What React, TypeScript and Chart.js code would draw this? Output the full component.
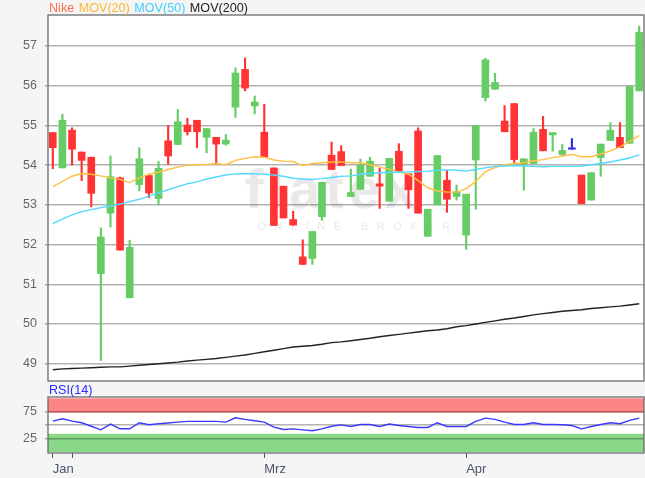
import React, { useEffect, useRef } from 'react';
import { Chart, registerables } from 'chart.js';

Chart.register(...registerables);

// ---- data ----
const opens = [54.82, 53.93, 54.88, 54.33, 54.2, 51.27, 52.79, 53.68, 50.66, 53.51, 53.74, 53.16, 54.61, 54.52, 55.01, 55.13, 54.7, 54.7, 54.53, 55.46, 56.41, 55.49, 54.83, 53.93, 53.47, 52.63, 51.69, 51.65, 52.7, 54.25, 54.34, 53.21, 53.39, 53.72, 53.53, 53.09, 54.35, 53.78, 54.86, 52.21, 53.0, 53.62, 53.21, 52.24, 54.13, 55.7, 55.91, 55.11, 55.55, 54.02, 54.04, 54.9, 54.76, 54.27, 54.4, 53.75, 53.12, 54.19, 54.62, 54.7, 54.55, 55.87];
const closes = [54.44, 55.13, 54.4, 54.12, 53.29, 52.19, 53.71, 51.86, 51.93, 54.16, 53.3, 53.92, 54.23, 55.09, 54.84, 54.84, 54.92, 54.53, 54.63, 56.32, 55.94, 55.59, 54.2, 52.48, 52.67, 52.49, 51.5, 52.33, 53.57, 53.89, 53.99, 53.31, 54.0, 54.1, 53.47, 54.17, 53.85, 53.38, 52.79, 52.89, 54.24, 53.14, 53.33, 53.27, 55.0, 56.65, 56.08, 54.84, 54.14, 54.16, 54.83, 54.36, 54.82, 54.37, 54.4, 53.03, 53.81, 54.53, 54.88, 54.44, 55.98, 57.34];
const highs = [54.82, 55.28, 54.94, 54.33, 54.2, 52.42, 54.23, 53.7, 52.11, 54.44, 53.74, 54.09, 55.0, 55.4, 55.18, 55.13, 54.92, 54.7, 54.77, 56.45, 56.7, 55.74, 55.53, 53.93, 53.47, 52.84, 52.12, 52.33, 53.57, 54.58, 54.49, 53.9, 54.15, 54.2, 53.92, 54.17, 54.54, 53.78, 54.94, 52.89, 54.24, 53.87, 53.5, 53.27, 55.0, 56.69, 56.31, 55.5, 55.55, 54.16, 54.92, 55.23, 54.82, 54.52, 54.67, 53.75, 53.81, 54.53, 55.07, 55.07, 55.98, 57.5];
const lows = [53.91, 53.93, 54.0, 53.61, 52.95, 49.08, 52.44, 51.86, 50.66, 53.35, 53.18, 53.0, 54.02, 54.52, 54.76, 54.44, 54.31, 54.02, 54.5, 55.2, 55.87, 55.29, 54.2, 52.48, 52.67, 52.49, 51.5, 51.5, 52.61, 53.89, 53.99, 53.21, 53.39, 53.72, 52.91, 53.09, 53.85, 52.91, 52.79, 52.21, 53.0, 52.81, 53.12, 51.88, 52.89, 55.61, 55.91, 54.84, 54.04, 53.37, 54.04, 54.36, 54.35, 54.23, 54.4, 53.03, 53.12, 53.72, 54.62, 54.44, 54.55, 55.87];
const mov20 = [53.46, 53.59, 53.72, 53.79, 53.77, 53.73, 53.68, 53.64, 53.56, 53.68, 53.77, 53.82, 53.89, 53.95, 54.0, 54.01, 54.02, 54.04, 54.01, 54.12, 54.17, 54.21, 54.2, 54.13, 54.1, 54.09, 53.99, 54.04, 54.06, 54.08, 54.08, 54.06, 54.06, 54.01, 53.95, 53.9, 53.83, 53.77, 53.61, 53.43, 53.35, 53.32, 53.32, 53.41, 53.59, 53.84, 53.94, 54.01, 54.04, 54.06, 54.11, 54.14, 54.19, 54.23, 54.27, 54.21, 54.21, 54.28, 54.36, 54.46, 54.6, 54.75];
const mov50 = [52.53, 52.64, 52.75, 52.83, 52.88, 52.93, 52.97, 53.02, 53.08, 53.14, 53.22, 53.3, 53.38, 53.46, 53.53, 53.58, 53.65, 53.7, 53.75, 53.78, 53.79, 53.78, 53.77, 53.75, 53.72, 53.67, 53.65, 53.64, 53.66, 53.69, 53.72, 53.73, 53.77, 53.79, 53.81, 53.82, 53.82, 53.83, 53.84, 53.85, 53.87, 53.88, 53.87, 53.85, 53.89, 53.93, 53.97, 53.98, 53.99, 53.98, 53.97, 53.96, 53.97, 53.97, 53.97, 53.98, 54.01, 54.04, 54.08, 54.13, 54.18, 54.26];
const mov200 = [48.85, 48.87, 48.88, 48.89, 48.9, 48.91, 48.92, 48.92, 48.94, 48.96, 48.98, 49.0, 49.02, 49.04, 49.07, 49.09, 49.11, 49.13, 49.16, 49.19, 49.22, 49.26, 49.3, 49.34, 49.38, 49.42, 49.44, 49.46, 49.49, 49.53, 49.55, 49.58, 49.61, 49.64, 49.68, 49.71, 49.74, 49.77, 49.8, 49.83, 49.85, 49.88, 49.93, 49.96, 50.0, 50.04, 50.08, 50.12, 50.15, 50.19, 50.23, 50.26, 50.29, 50.32, 50.34, 50.36, 50.39, 50.41, 50.43, 50.45, 50.48, 50.51];
const rsi14 = [57.5, 62, 57.5, 54.5, 48, 41.3, 52, 43.2, 43.2, 54.5, 50.7, 52.6, 54, 55.7, 57, 57, 57, 57, 55.7, 63.8, 60.7, 58.2, 55.7, 46.3, 42, 43, 41.3, 39.5, 43, 48, 50.5, 47.6, 51.3, 51.3, 47.6, 52, 49.4, 47.6, 45.7, 45.7, 54.5, 47.6, 47.6, 47.6, 57, 63.1, 60.7, 55.7, 51.3, 51.3, 54.5, 51.3, 51.3, 50.7, 49.4, 43.2, 47.6, 51.3, 54.5, 52.6, 58.8, 63.1];

const priceTicks = [49, 50, 51, 52, 53, 54, 55, 56, 57];
const rsiTicks = [25, 50, 75];
const rsiTickLabels = ['25', '', '75'];
const monthTickIdx = [0, 2, 22, 43];
const monthTickLabels = ['Jan', '', 'Mrz', 'Apr'];
const rsiBands = { overbought: [73, 100], oversold: [0, 34] };
const legendItems = [
  { text: 'Nike', color: '#ff7050' },
  { text: 'MOV(20)', color: '#ffb833' },
  { text: 'MOV(50)', color: '#3fd0ff' },
  { text: 'MOV(200)', color: '#222222' },
];

const UP = '#66cc66';
const DOWN = '#ff3333';
const FLAT = '#3333ee';
const candleColor = (i: number) => (closes[i] > opens[i] ? UP : closes[i] < opens[i] ? DOWN : FLAT);

const FONT = '"Liberation Sans", Arial, Helvetica, sans-serif';

export default function App() {
  const mainRef = useRef<HTMLCanvasElement>(null);
  const rsiRef = useRef<HTMLCanvasElement>(null);

  useEffect(() => {
    document.body.style.margin = '0';
    document.body.style.overflow = 'hidden';
    Chart.defaults.font.family = FONT;

    const n = opens.length;
    const xMin = -0.5;
    const xMax = n - 0.5;
    const colors = opens.map((_, i) => candleColor(i));

    const areaPlugin = {
      id: 'area',
      beforeDraw(chart: any) {
        const { ctx, chartArea: a } = chart;
        ctx.save();
        ctx.fillStyle = '#ffffff';
        ctx.fillRect(a.left, a.top, a.right - a.left, a.bottom - a.top);
        ctx.restore();
      },
      afterDraw(chart: any) {
        const { ctx, chartArea: a } = chart;
        ctx.save();
        ctx.strokeStyle = '#6a6a6a';
        ctx.lineWidth = 1.3;
        ctx.strokeRect(a.left, a.top, a.right - a.left, a.bottom - a.top);
        ctx.restore();
      },
    };

    const mainDecor = {
      id: 'mainDecor',
      beforeDraw(chart: any) {
        const { ctx } = chart;
        ctx.save();
        ctx.fillStyle = 'rgba(200,200,200,0.4)';
        ctx.textAlign = 'center';
        ctx.textBaseline = 'alphabetic';
        ctx.font = `bold 56px ${FONT}`;
        (ctx as any).letterSpacing = '5px';
        ctx.fillText('flatex', 333, 208);
        ctx.font = `11px ${FONT}`;
        (ctx as any).letterSpacing = '8.5px';
        ctx.fillText('ONLINE BROKER', 358, 230);
        ctx.restore();
      },
      afterDraw(chart: any) {
        const { ctx } = chart;
        ctx.save();
        ctx.font = `12.6px ${FONT}`;
        ctx.textBaseline = 'middle';
        ctx.textAlign = 'left';
        let x = 49;
        for (const it of legendItems) {
          ctx.fillStyle = it.color;
          ctx.fillText(it.text, x, 9);
          x += ctx.measureText(it.text).width + 4.5;
        }
        ctx.restore();
      },
    };

    const rsiDecor = {
      id: 'rsiDecor',
      beforeDraw(chart: any) {
        const { ctx, chartArea: a, scales } = chart;
        const y = scales.y;
        ctx.save();
        ctx.fillStyle = '#ff8585';
        const r0 = y.getPixelForValue(rsiBands.overbought[1]);
        const r1 = y.getPixelForValue(rsiBands.overbought[0]);
        ctx.fillRect(a.left, r0, a.right - a.left, r1 - r0);
        ctx.fillStyle = '#88d888';
        const g0 = y.getPixelForValue(rsiBands.oversold[1]);
        const g1 = y.getPixelForValue(rsiBands.oversold[0]);
        ctx.fillRect(a.left, g0, a.right - a.left, g1 - g0);
        ctx.restore();
      },
      afterDraw(chart: any) {
        const { ctx } = chart;
        ctx.save();
        ctx.font = `12.6px ${FONT}`;
        ctx.textBaseline = 'middle';
        ctx.fillStyle = '#2a2aff';
        ctx.fillText('RSI(14)', 49, 6);
        ctx.restore();
      },
    };

    const fitY = (scale: any) => {
      scale.width = 48;
      scale.paddingTop = 0;
      scale.paddingBottom = 0;
    };
    const fitX = (scale: any) => {
      scale.height = 25;
      scale.paddingLeft = 0;
      scale.paddingRight = 0;
    };

    const main = new Chart(mainRef.current!, {
      type: 'bar',
      data: {
        datasets: [
          {
            type: 'line',
            label: 'MOV(200)',
            data: mov200.map((v, i) => ({ x: i, y: v })),
            borderColor: '#222222',
            borderWidth: 1.4,
            pointRadius: 0,
            order: 0,
          } as any,
          {
            type: 'line',
            label: 'MOV(50)',
            data: mov50.map((v, i) => ({ x: i, y: v })),
            borderColor: '#55d8ff',
            borderWidth: 1.4,
            pointRadius: 0,
            order: 0,
          },
          {
            type: 'line',
            label: 'MOV(20)',
            data: mov20.map((v, i) => ({ x: i, y: v })),
            borderColor: '#ffc040',
            borderWidth: 1.4,
            pointRadius: 0,
            order: 0,
          },
          {
            type: 'bar',
            label: 'body',
            data: opens.map((o, i) => ({ x: i, y: [o, closes[i]] })),
            backgroundColor: colors,
            barThickness: 7,
            minBarLength: 1.5,
            grouped: false,
            order: 1,
          } as any,
          {
            type: 'bar',
            label: 'wick',
            data: lows.map((l, i) => ({ x: i, y: [l, highs[i]] })),
            backgroundColor: colors,
            barThickness: 1.5,
            grouped: false,
            order: 2,
          } as any,
        ],
      },
      options: {
        responsive: false,
        animation: false,
        layout: { padding: { top: 15, right: 1, bottom: 4, left: 0 } },
        plugins: { legend: { display: false }, tooltip: { enabled: false } },
        scales: {
          x: { type: 'linear', min: xMin, max: xMax, offset: false, display: false },
          y: {
            type: 'linear',
            min: 48.565,
            max: 57.78,
            afterFit: fitY,
            afterBuildTicks: (s: any) => {
              s.ticks = priceTicks.map((v) => ({ value: v }));
            },
            grid: { color: 'rgba(0,0,0,0.3)', lineWidth: 1.5, tickLength: 3, drawTicks: true },
            border: { display: false },
            ticks: { color: '#666666', font: { size: 12.5 }, padding: 8 },
          },
        },
      },
      plugins: [areaPlugin, mainDecor],
    });

    const rsiChart = new Chart(rsiRef.current!, {
      type: 'line',
      data: {
        datasets: [
          {
            label: 'RSI(14)',
            data: rsi14.map((v, i) => ({ x: i, y: v })),
            borderColor: '#3a3aff',
            borderWidth: 1.4,
            pointRadius: 0,
          },
        ],
      },
      options: {
        responsive: false,
        animation: false,
        layout: { padding: { top: 12, right: 1, bottom: 0, left: 0 } },
        plugins: { legend: { display: false }, tooltip: { enabled: false } },
        scales: {
          x: {
            type: 'linear',
            min: xMin,
            max: xMax,
            offset: false,
            afterFit: fitX,
            afterBuildTicks: (s: any) => {
              s.ticks = monthTickIdx.map((v) => ({ value: v }));
            },
            grid: { drawOnChartArea: false, drawTicks: true, tickLength: 5, color: '#555555', lineWidth: 1 },
            border: { display: false },
            ticks: {
              autoSkip: false,
              maxRotation: 0,
              align: 'start',
              padding: 4,
              color: '#4a5568',
              font: { size: 13 },
              callback: (_v: any, i: number) => monthTickLabels[i],
            },
          },
          y: {
            type: 'linear',
            min: -1.8,
            max: 102.4,
            afterFit: fitY,
            afterBuildTicks: (s: any) => {
              s.ticks = rsiTicks.map((v) => ({ value: v }));
            },
            grid: { color: 'rgba(0,0,0,0.3)', lineWidth: 1.5, tickLength: 3, drawTicks: true },
            border: { display: false },
            ticks: {
              color: '#666666',
              font: { size: 12.5 },
              padding: 8,
              callback: (_v: any, i: number) => rsiTickLabels[i],
            },
          },
        },
      },
      plugins: [areaPlugin, rsiDecor],
    });

    return () => {
      main.destroy();
      rsiChart.destroy();
    };
  }, []);

  return (
    <div style={{ position: 'absolute', left: 0, top: 0, width: 645, height: 478, background: '#f5f5f5', overflow: 'hidden' }}>
      <canvas ref={mainRef} width={645} height={385} style={{ position: 'absolute', left: 0, top: 0 }} />
      <canvas ref={rsiRef} width={645} height={93} style={{ position: 'absolute', left: 0, top: 385 }} />
    </div>
  );
}
